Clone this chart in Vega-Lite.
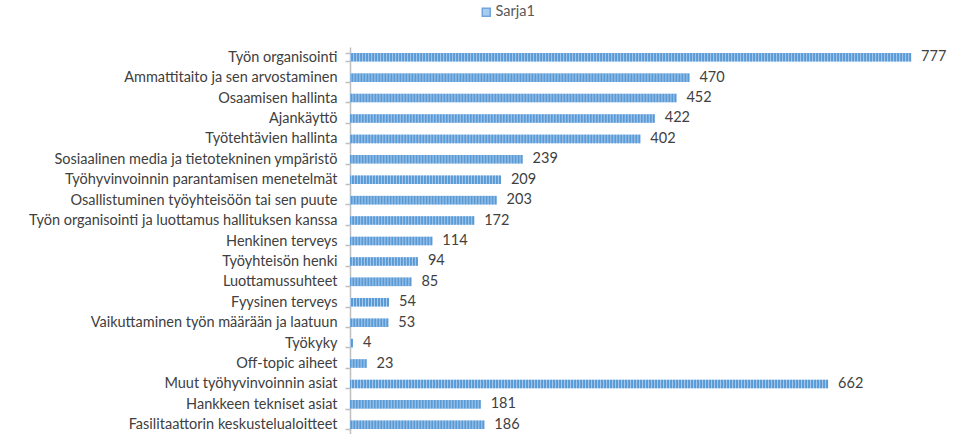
{
  "$schema": "https://vega.github.io/schema/vega-lite/v6.json",
  "width": 603,
  "height": 388,
  "autosize": {"type": "none"},
  "padding": {"left": 350, "top": 47, "right": 0, "bottom": 0},
  "background": "white",
  "config": {"view": {"stroke": null}, "font": "Lato"},
  "data": {
    "values": [
      {"aihe": "Työn organisointi", "arvo": 777},
      {"aihe": "Ammattitaito ja sen arvostaminen", "arvo": 470},
      {"aihe": "Osaamisen hallinta", "arvo": 452},
      {"aihe": "Ajankäyttö", "arvo": 422},
      {"aihe": "Työtehtävien hallinta", "arvo": 402},
      {"aihe": "Sosiaalinen media ja tietotekninen ympäristö", "arvo": 239},
      {"aihe": "Työhyvinvoinnin parantamisen menetelmät", "arvo": 209},
      {"aihe": "Osallistuminen työyhteisöön tai sen puute", "arvo": 203},
      {"aihe": "Työn organisointi ja luottamus hallituksen kanssa", "arvo": 172},
      {"aihe": "Henkinen terveys", "arvo": 114},
      {"aihe": "Työyhteisön henki", "arvo": 94},
      {"aihe": "Luottamussuhteet", "arvo": 85},
      {"aihe": "Fyysinen terveys", "arvo": 54},
      {"aihe": "Vaikuttaminen työn määrään ja laatuun", "arvo": 53},
      {"aihe": "Työkyky", "arvo": 4},
      {"aihe": "Off-topic aiheet", "arvo": 23},
      {"aihe": "Muut työhyvinvoinnin asiat", "arvo": 662},
      {"aihe": "Hankkeen tekniset asiat", "arvo": 181},
      {"aihe": "Fasilitaattorin keskustelualoitteet", "arvo": 186}
    ]
  },
  "encoding": {
    "y": {
      "field": "aihe",
      "type": "nominal",
      "sort": null,
      "scale": {"paddingInner": 0.58, "paddingOuter": 0.29},
      "axis": {
        "title": null,
        "domainColor": "#bfbfbf",
        "domainWidth": 1.5,
        "tickColor": "#bfbfbf",
        "tickWidth": 1.5,
        "tickSize": 5,
        "tickBand": "extent",
        "labelPadding": 8,
        "labelFontSize": 14.5,
        "labelColor": "#404040",
        "labelLimit": 0
      }
    }
  },
  "layer": [
    {
      "mark": {"type": "bar"},
      "encoding": {
        "x": {"field": "arvo", "type": "quantitative", "scale": {"domain": [0, 835], "nice": false}, "axis": null},
        "color": {
          "datum": "Sarja1",
          "scale": {"range": ["#a9cbee"]},
          "legend": {
            "title": null,
            "orient": "none",
            "legendX": 129,
            "legendY": -42,
            "symbolType": "square",
            "symbolSize": 64,
            "labelFontSize": 14.5,
            "labelColor": "#595959",
            "labelOffset": 2,
            "encode": {"symbols": {"update": {"fill": {"value": "#6fa6dc"}, "stroke": {"value": "#6fa6dc"}}}}
          }
        }
      }
    },
    {
      "mark": {"type": "rule", "color": "#5b9bd5", "strokeWidth": 8.5, "strokeDash": [2, 1], "strokeCap": "butt"},
      "encoding": {
        "x": {"field": "arvo", "type": "quantitative"},
        "x2": {"datum": 0}
      }
    },
    {
      "mark": {"type": "text", "align": "left", "baseline": "middle", "dx": 10, "fontSize": 14.5, "color": "#404040"},
      "encoding": {
        "x": {"field": "arvo", "type": "quantitative"},
        "text": {"field": "arvo", "type": "quantitative"}
      }
    }
  ]
}
